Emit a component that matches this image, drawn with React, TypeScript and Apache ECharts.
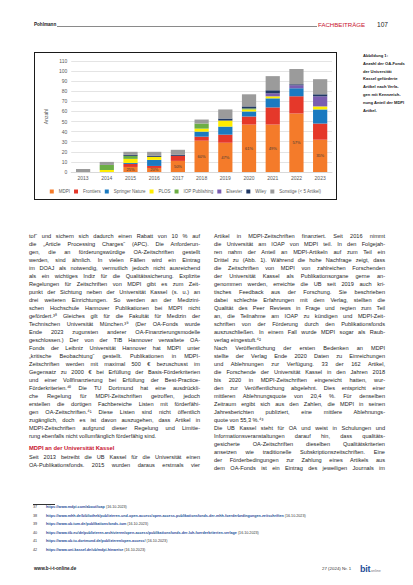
import { useEffect, useRef } from "react";
import * as echarts from "echarts";

const YEARS = ["2013", "2014", "2015", "2016", "2017", "2018", "2019", "2020", "2021", "2022", "2023"];
const MDPI = [0, 0, 5, 4, 11, 31, 29, 47, 47, 58, 32];
const FRONTIERS = [0, 0, 3, 2, 5, 4, 8, 8, 17, 17, 16];
const SPRINGER = [0, 0, 1, 6, 0, 5, 8, 5, 9, 8, 14];
const PLOS = [0, 2, 4, 3, 0, 3, 6, 2, 2, 0, 3];
const IOP = [0, 5, 3, 0, 0, 5, 0, 1, 0, 0, 0];
const ELSEVIER = [0, 0, 0, 0, 0, 0, 0, 0, 3, 3, 10];
const WILEY = [0, 0, 1, 1, 1, 0, 2, 2, 3, 1, 2];
const OTHERS = [3, 3, 3, 4, 5, 4, 9, 12, 14, 15, 15];

const PUBLISHERS = ["MDPI", "Frontiers", "Springer Nature", "PLOS", "IOP Publishing", "Elsevier", "Wiley", "Sonstige (< 5 Artikel)"];
const VALUES = [MDPI, FRONTIERS, SPRINGER, PLOS, IOP, ELSEVIER, WILEY, OTHERS];
const COLORS = ["#f47b2a", "#e5382a", "#1b7ac0", "#ffed00", "#6cae45", "#7a5db0", "#203864", "#9b9b9b"];

const CAPTION = [
  "Abbildung 1:",
  "Anzahl der OA-Fonds",
  "der Universität",
  "Kassel geförderte",
  "Artikel nach Verla-",
  "gen mit Kennzeich-",
  "nung Anteil der MDPI",
  "Artikel.",
];

// "¶" marks the last line of a paragraph (not justified)
const LEFT_LINES = [
  "tof\u201c und sichern sich dadurch einen Rabatt von 10 % auf",
  "die \u201eArticle Processing Charges\u201c (APC). Die Anforderun-",
  "gen, die an förderungswürdige OA-Zeitschriften gestellt",
  "werden, sind ähnlich. In vielen Fällen wird ein Eintrag",
  "im DOAJ als notwendig, vermutlich jedoch nicht ausreichend",
  "als ein wichtiges Indiz für die Qualitätssicherung. Explizite",
  "Regelungen für Zeitschriften von MDPI gibt es zum Zeit-",
  "punkt der Sichtung neben der Universität Kassel (s. u.) an",
  "drei weiteren Einrichtungen. So werden an der Medizini-",
  "schen Hochschule Hannover Publikationen bei MDPI nicht",
  "gefördert.\u00b3\u2078 Gleiches gilt für die Fakultät für Medizin der",
  "Technischen Universität München.\u00b3\u2079 (Der OA-Fonds wurde",
  "Ende 2023 zugunsten anderer OA-Finanzierungsmodelle",
  "geschlossen.) Der von der TIB Hannover verwaltete OA-",
  "Fonds der Leibniz Universität Hannover hat MDPI unter",
  "\u201ekritische Beobachtung\u201c gestellt. Publikationen in MDPI-",
  "Zeitschriften werden mit maximal 500 € bezuschusst im",
  "Gegensatz zu 2000 € bei Erfüllung der Basis-Förderkriterien",
  "und einer Vollfinanzierung bei Erfüllung der Best-Practice-",
  "Förderkriterien.\u2074\u2070 Die TU Dortmund hat eine ausdrückli-",
  "che Regelung für MDPI-Zeitschriften getroffen, jedoch",
  "erstellen die dortigen Fachbereiche Listen mit förderfähi-",
  "gen OA-Zeitschriften.\u2074\u00b9 Diese Listen sind nicht öffentlich",
  "zugänglich, doch es ist davon auszugehen, dass Artikel in",
  "MDPI-Zeitschriften aufgrund dieser Regelung und Limitie-",
  "rung ebenfalls nicht vollumfänglich förderfähig sind.¶",
];

const HEADING = "MDPI an der Universität Kassel";
const AFTER_HEADING = [
  "Seit 2013 betreibt die UB Kassel für die Universität einen",
  "OA-Publikationsfonds. 2015 wurden daraus erstmals vier",
];

const RIGHT_LINES = [
  "Artikel in MDPI-Zeitschriften finanziert. Seit 2016 nimmt",
  "die Universität am IOAP von MDPI teil. In den Folgejah-",
  "ren nahm der Anteil an MDPI-Artikeln auf zum Teil ein",
  "Drittel zu (Abb. 1). Während die hohe Nachfrage zeigt, dass",
  "die Zeitschriften von MDPI von zahlreichen Forschenden",
  "der Universität Kassel als Publikationsorgane gerne an-",
  "genommen werden, erreichte die UB seit 2019 auch kri-",
  "tisches Feedback aus der Forschung. Sie beschrieben",
  "dabei schlechte Erfahrungen mit dem Verlag, stellten die",
  "Qualität des Peer Reviews in Frage und regten zum Teil",
  "an, die Teilnahme am IOAP zu kündigen und MDPI-Zeit-",
  "schriften von der Förderung durch den Publikationsfonds",
  "auszuschließen. In einem Fall wurde MDPI sogar als Raub-",
  "verlag eingestuft.\u2074\u00b2¶",
  "Nach Veröffentlichung der ersten Bedenken an MDPI",
  "stellte der Verlag Ende 2020 Daten zu Einreichungen",
  "und Ablehnungen zur Verfügung. 33 der 162 Artikel,",
  "die Forschende der Universität Kassel in den Jahren 2018",
  "bis 2020 in MDPI-Zeitschriften eingereicht hatten, wur-",
  "den zur Veröffentlichung abgelehnt. Dies entspricht einer",
  "mittleren Ablehnungsquote von 20,4 %. Für denselben",
  "Zeitraum ergibt sich aus den Zahlen, die MDPI in seinen",
  "Jahresberichten publiziert, eine mittlere Ablehnungs-",
  "quote von 55,3 %.\u2074\u00b3¶",
  "Die UB Kassel steht für OA und weist in Schulungen und",
  "Informationsveranstaltungen darauf hin, dass qualitäts-",
  "gesicherte OA-Zeitschriften dieselben Qualitätskriterien",
  "ansetzen wie traditionelle Subskriptionszeitschriften. Eine",
  "der Förderbedingungen zur Zahlung eines Artikels aus",
  "dem OA-Fonds ist ein Eintrag des jeweiligen Journals im",
];

const FOOTNOTES = [
  ["37", "https://www.mdpi.com/about/ioap", "(16.10.2023)"],
  ["38", "https://www.mhh.de/bibliothek/publizieren-und-open-access/open-access-publikationsfonds-der-mhh-foerderbedingungen-zeitschriften", "(16.10.2023)"],
  ["39", "https://www.ub.tum.de/publikationsfonds-tum", "(16.10.2023)"],
  ["40", "https://www.tib.eu/de/publizieren-archivieren/open-access/publikationsfonds-der-luh-foerderkriterien-verlage", "(16.10.2023)"],
  ["41", "https://www.ub.tu-dortmund.de/publizieren/open-access/", "(16.10.2023)"],
  ["42", "https://www.uni-kassel.de/ub/mdpi-hinweise", "(16.10.2023)"],
];

const BODY_FONT = "'Liberation Sans', Arial, sans-serif";
const TOTALS = YEARS.map((_, i) => VALUES.reduce((s, arr) => s + arr[i], 0));

function StackedChart(): JSX.Element {
  const ref = useRef<HTMLDivElement | null>(null);

  useEffect(() => {
    const el = ref.current;
    if (!el) return;
    const chart = echarts.init(el, undefined, { renderer: "svg" });
    chart.setOption({
      animation: false,
      textStyle: { fontFamily: BODY_FONT },
      grid: { left: 27, right: 4, top: 8, bottom: 27 },
      legend: {
        top: 136,
        left: "center",
        icon: "rect",
        itemWidth: 4,
        itemHeight: 4,
        itemGap: 4,
        padding: 0,
        textStyle: { fontSize: 4.5, color: "#595959" },
        data: PUBLISHERS,
      },
      xAxis: {
        type: "category",
        data: YEARS,
        axisLine: { lineStyle: { color: "#d9d9d9" } },
        axisTick: { show: false },
        axisLabel: { fontSize: 5, color: "#595959", margin: 3 },
      },
      yAxis: {
        type: "value",
        min: 0,
        max: 110,
        interval: 10,
        name: "Anzahl",
        nameLocation: "middle",
        nameGap: 19,
        nameTextStyle: { fontSize: 5, color: "#595959" },
        axisLabel: { fontSize: 5, color: "#595959", margin: 4 },
        splitLine: { lineStyle: { color: "#d9d9d9", width: 0.7 } },
      },
      series: PUBLISHERS.map((name, i) => ({
        name,
        type: "bar",
        stack: "total",
        barCategoryGap: "40%",
        data: VALUES[i],
        itemStyle: { color: COLORS[i] },
        label:
          i === 0
            ? {
                show: true,
                position: "inside",
                fontSize: 4,
                color: "#3a3a3a",
                formatter: (p: { value: number; dataIndex: number }) =>
                  p.value > 0 ? `${Math.round((p.value / TOTALS[p.dataIndex]) * 100)}%` : "",
              }
            : { show: false },
      })),
    });
    return () => chart.dispose();
  }, []);

  return <div ref={ref} style={{ position: "absolute", left: 0, top: 0, width: 301, height: 146 }} />;
}

function TextLines({ lines, left, top }: { lines: string[]; left: number; top: number }): JSX.Element {
  return (
    <>
      {lines.map((raw, i) => {
        const last = raw.endsWith("¶");
        const text = last ? raw.slice(0, -1) : raw;
        return (
          <div
            key={i}
            style={{
              position: "absolute",
              left,
              top: top + i * 8,
              width: 171,
              height: 8,
              lineHeight: "8px",
              fontSize: 5.6,
              whiteSpace: "nowrap",
              textAlign: "justify",
              textAlignLast: last ? "left" : "justify",
              color: "#1e1e1e",
            }}
          >
            {text}
          </div>
        );
      })}
    </>
  );
}

export default function App(): JSX.Element {
  return (
    <div
      style={{
        position: "absolute",
        left: 0,
        top: 0,
        width: 413,
        height: 585,
        background: "#fff",
        overflow: "hidden",
        fontFamily: BODY_FONT,
      }}
    >
      {/* running head */}
      <div style={{ position: "absolute", left: 34, top: 22, fontSize: 4.6, fontWeight: 700, color: "#222", lineHeight: "6px" }}>
        Pohlmann
      </div>
      <div style={{ position: "absolute", left: 57, top: 25.5, width: 260, height: 0, borderTop: "0.7px solid #8a8a8a" }} />
      <div style={{ position: "absolute", left: 318, top: 21, fontSize: 6.1, color: "#c8102e", lineHeight: "8px" }}>
        FACHBEITRÄGE
      </div>
      <div style={{ position: "absolute", left: 377, top: 21, fontSize: 6.6, color: "#222", lineHeight: "8px" }}>107</div>

      {/* chart box */}
      <div style={{ position: "absolute", left: 34, top: 52, width: 301, height: 146, border: "1px solid #1a1a1a" }}>
        <StackedChart />
      </div>

      {/* caption */}
      {CAPTION.map((line, i) => (
        <div
          key={i}
          style={{
            position: "absolute",
            left: 363,
            top: 53 + i * 7.8,
            fontSize: 4.1,
            fontWeight: 700,
            lineHeight: "6px",
            color: "#222",
            whiteSpace: "nowrap",
          }}
        >
          {line}
        </div>
      ))}

      {/* body text */}
      <TextLines lines={LEFT_LINES} left={29} top={232} />
      <div style={{ position: "absolute", left: 29, top: 444, fontSize: 5.8, lineHeight: "8px", color: "#c8102e", fontWeight: 700 }}>
        {HEADING}
      </div>
      <TextLines lines={AFTER_HEADING} left={29} top={453} />
      <TextLines lines={RIGHT_LINES} left={214} top={232} />

      {/* footnotes */}
      <div style={{ position: "absolute", left: 33, top: 504, width: 22, height: 0, borderTop: "0.6px solid #333" }} />
      {FOOTNOTES.map(([num, url, date], i) => (
        <div
          key={num}
          style={{
            position: "absolute",
            left: 33,
            top: 505 + i * 8.5,
            fontSize: 3.7,
            lineHeight: "5px",
            whiteSpace: "nowrap",
            color: "#333",
          }}
        >
          <span style={{ display: "inline-block", width: 13 }}>{num}</span>
          <span style={{ color: "#1f4e99", fontWeight: 700 }}>{url}</span> {date}
        </div>
      ))}

      {/* footer */}
      <div style={{ position: "absolute", left: 34, top: 566, fontSize: 4.6, fontWeight: 700, color: "#222", lineHeight: "6px" }}>
        www.b-i-t-online.de
      </div>
      <div style={{ position: "absolute", left: 322, top: 566, fontSize: 4.4, color: "#333", lineHeight: "6px" }}>
        27 (2024) Nr. 1
      </div>
      <div style={{ position: "absolute", left: 360, top: 562, lineHeight: "10px", whiteSpace: "nowrap" }}>
        <span style={{ fontSize: 9, fontWeight: 700, color: "#1f4e99", letterSpacing: -0.3 }}>bit</span>
        <span style={{ fontSize: 3.6, color: "#777", marginLeft: 1 }}>online</span>
      </div>
    </div>
  );
}
